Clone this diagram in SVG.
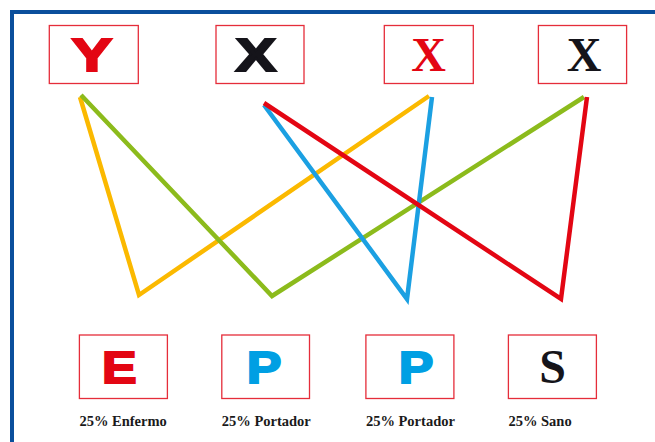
<svg xmlns="http://www.w3.org/2000/svg" width="655" height="442" viewBox="0 0 655 442">
<style>
.box{fill:#fff;stroke:#e52d3a;stroke-width:1.3}
.heavy{font-family:"Liberation Sans",Arial,sans-serif;font-weight:bold;stroke-width:2;stroke-linejoin:miter}
.serif{font-family:"Liberation Serif","Times New Roman",serif;font-weight:bold}
.lbl{font-family:"Liberation Serif","Times New Roman",serif;font-weight:bold;font-size:14.5px;fill:#1a1a1a}
.ln{fill:none;stroke-width:4.5;stroke-linejoin:miter;stroke-linecap:butt}
</style>
<rect width="655" height="442" fill="#fff"/>
<path d="M12,442 V12 H655" fill="none" stroke="#0a4f9c" stroke-width="4"/>
<g id="conn">
<polyline class="ln" stroke="#fbb900" points="80,97 139,295 429,96"/>
<polyline class="ln" stroke="#8cbb1c" points="81,95 272,296 584,97"/>
<polyline class="ln" stroke="#1ba0e2" points="264,105 407,299 432,97"/>
<polyline class="ln" stroke="#e30613" points="264,103 561,299 587,97"/>
</g>
<g id="n-y">
<rect class="box" x="49.3" y="25.5" width="89" height="58"/>
<text class="heavy" transform="translate(92,71.3) scale(1.33,1)" text-anchor="middle" font-size="46" fill="#e30613" stroke="#e30613">Y</text>
</g>
<g id="n-x1">
<rect class="box" x="216" y="25.5" width="88" height="58"/>
<text class="heavy" transform="translate(256,71.3) scale(1.33,1)" text-anchor="middle" font-size="46" fill="#15141a" stroke="#15141a">X</text>
</g>
<g id="n-x2">
<rect class="box" x="384.3" y="25.5" width="89" height="58"/>
<text class="serif" x="428.5" y="71" text-anchor="middle" font-size="48" fill="#e30613">X</text>
</g>
<g id="n-x3">
<rect class="box" x="538.4" y="25.5" width="88.2" height="58"/>
<text class="serif" x="584" y="71" text-anchor="middle" font-size="48" fill="#15141a">X</text>
</g>
<g id="n-e">
<rect class="box" x="79.4" y="335" width="88" height="63.5"/>
<text class="heavy" transform="translate(119.3,383.3) scale(1.18,1)" text-anchor="middle" font-size="44" fill="#e30613" stroke="#e30613">E</text>
<text class="lbl" x="79.4" y="426">25% Enfermo</text>
</g>
<g id="n-p1">
<rect class="box" x="221.8" y="335" width="87.7" height="63.5"/>
<text class="heavy" transform="translate(264,383.3) scale(1.18,1)" text-anchor="middle" font-size="44" fill="#009fe3" stroke="#009fe3">P</text>
<text class="lbl" x="221.8" y="426">25% Portador</text>
</g>
<g id="n-p2">
<rect class="box" x="365.9" y="335" width="88" height="63.5"/>
<text class="heavy" transform="translate(416,383.3) scale(1.18,1)" text-anchor="middle" font-size="44" fill="#009fe3" stroke="#009fe3">P</text>
<text class="lbl" x="365.9" y="426">25% Portador</text>
</g>
<g id="n-s">
<rect class="box" x="508.4" y="335" width="88" height="63.5"/>
<text class="serif" x="552.5" y="383" text-anchor="middle" font-size="48" fill="#15141a">S</text>
<text class="lbl" x="508.4" y="426">25% Sano</text>
</g>
</svg>
